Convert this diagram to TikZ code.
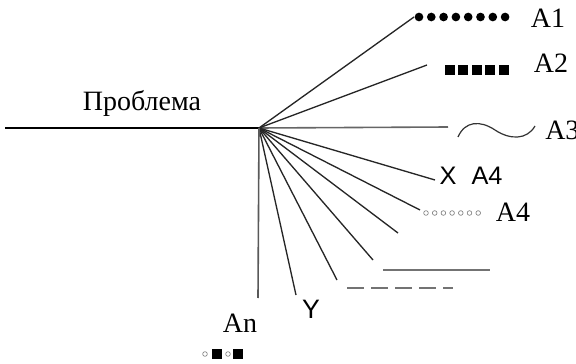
\documentclass[tikz,border=0pt]{standalone}
\usepackage{fontspec}
\setmainfont{Liberation Serif}
\newfontfamily\sansfont{Liberation Sans}
\usepackage{tikz}

\begin{document}
\begin{tikzpicture}[
    x=0.75pt, y=-0.75pt,
    spoke/.style={line width=1pt, black!85},
    greyline/.style={line width=1.5pt, black!55},
    txt/.style={font=\fontsize{21}{24}\selectfont, inner sep=0pt},
    sanstxt/.style={font=\sansfont\fontsize{19}{22}\selectfont, inner sep=0pt},
    bead/.style={circle, fill=black, inner sep=0pt, minimum size=6.5pt},
    block/.style={rectangle, fill=black, inner sep=0pt, minimum size=7.5pt},
    ring/.style={circle, draw=black!50, line width=0.5pt, inner sep=0pt, minimum size=3.5pt}
]
    \useasboundingbox (0,0) rectangle (576,364);

    % Hub and spoke ends
    \coordinate (start) at (5,128);
    \coordinate (hub) at (259,128);
    \coordinate (e1) at (414,17);
    \coordinate (e2) at (427,65);
    \coordinate (e3) at (448,127);
    \coordinate (e4) at (435,180);
    \coordinate (e5) at (420,210);
    \coordinate (e6) at (398,233);
    \coordinate (e7) at (373,260);
    \coordinate (e8) at (337,280);
    \coordinate (e9) at (296,295);
    \coordinate (e10) at (258,298);

    % Labels
    \node[txt] (problem) at (142,103) {Проблема};
    \node[txt] (a1) at (548,18) {A1};
    \node[txt] (a2) at (551,63) {A2};
    \node[txt, anchor=west] (a3) at (545,130) {A3};
    \node[sanstxt] (xmark) at (448,176) {X};
    \node[sanstxt] (a4x) at (487,176) {A4};
    \node[txt] (a4ring) at (513,212) {A4};
    \node[sanstxt, font=\sansfont\fontsize{20}{22}\selectfont] (ymark) at (311,309) {Y};
    \node[txt] (an) at (240,323) {An};

    % Markers
    \foreach \i in {0,...,7}
        \node[bead] (bead\i) at (419+12.3*\i,17) {};
    \foreach \i in {0,...,4}
        \node[block] (block\i) at (450+13.4*\i,70) {};
    \foreach \i in {0,...,6}
        \node[ring] (ring\i) at (426+8.7*\i,213) {};
    \node[ring] (pat1) at (205,354) {};
    \node[block] (pat2) at (217,354) {};
    \node[ring] (pat3) at (228,354) {};
    \node[block] (pat4) at (238,354) {};

    % Main line and spokes
    \draw[line width=1.8pt] (start) -- (hub);
    \draw[line width=1.2pt, black!60] (hub) -- (e3);
    \draw[spoke] (hub) -- (e1);
    \draw[spoke] (hub) -- (e2);
    \draw[spoke] (hub) -- (e4);
    \draw[spoke] (hub) -- (e5);
    \draw[spoke] (hub) -- (e6);
    \draw[spoke] (hub) -- (e7);
    \draw[spoke] (hub) -- (e8);
    \draw[spoke] (hub) -- (e9);
    \draw[line width=1.2pt, black!65] (hub) -- (e10);

    % Wave, plain and dashed lines
    \coordinate (w1) at (458,137);
    \coordinate (w2) at (495,130);
    \coordinate (w3) at (535,126);
    \draw[line width=0.9pt, black!80] (w1) .. controls (465,121) and (480,120) .. (w2)
        .. controls (510,140) and (527,140) .. (w3);
    \coordinate (p1) at (383,270);
    \coordinate (p2) at (490,270);
    \draw[greyline] (p1) -- (p2);
    \coordinate (d1) at (347,288);
    \coordinate (d2) at (453,288);
    \draw[greyline, dash pattern=on 12.75pt off 5.25pt] (d1) -- (d2);
\end{tikzpicture}
\end{document}
